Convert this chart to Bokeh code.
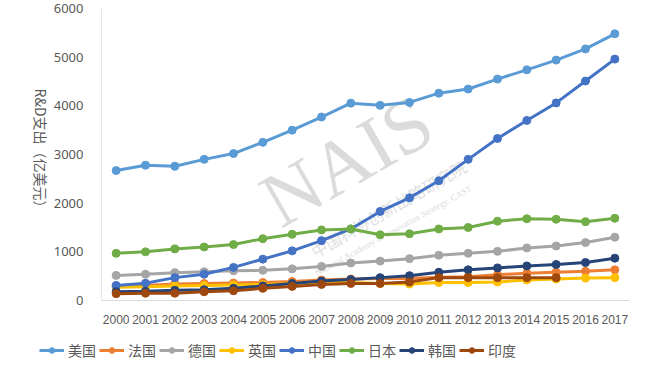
import math
from bokeh.plotting import figure
from bokeh.layouts import row, column
from bokeh.models import Legend, LegendItem, Label, ColumnDataSource
from bokeh.embed import file_html
from bokeh.resources import INLINE

years = [str(y) for y in range(2000, 2018)]
countries = ["美国", "法国", "德国", "英国", "中国", "日本", "韩国", "印度"]
colors = ["#5B9BD5", "#ED7D31", "#A5A5A5", "#FFC000", "#4472C4", "#70AD47", "#264478", "#9E480E"]

usa = [2670, 2780, 2760, 2900, 3020, 3250, 3500, 3770, 4055, 4010, 4070, 4260, 4345, 4550, 4740, 4940, 5170, 5480]
france = [300, 310, 340, 350, 360, 370, 390, 420, 440, 450, 450, 480, 490, 530, 560, 580, 600, 630]
germany = [515, 540, 570, 590, 610, 620, 650, 700, 770, 810, 860, 930, 970, 1010, 1080, 1120, 1190, 1300]
uk = [270, 280, 300, 310, 320, 330, 350, 370, 370, 350, 340, 370, 370, 380, 420, 440, 460, 470]
china = [310, 355, 470, 540, 680, 850, 1020, 1230, 1470, 1830, 2110, 2460, 2900, 3330, 3700, 4060, 4510, 4960]
japan = [970, 1000, 1060, 1100, 1150, 1270, 1360, 1450, 1470, 1350, 1370, 1470, 1500, 1630, 1680, 1670, 1620, 1690]
korea = [180, 190, 210, 220, 250, 300, 350, 400, 430, 470, 510, 580, 630, 670, 710, 740, 780, 870]
india = [140, 150, 150, 180, 200, 250, 290, 330, 350, 350, 380, 470, 470, 470, 470, 470]

series = [usa, france, germany, uk, china, japan, korea, india]

TXT = "#595959"
MAIN_H = 326
LEG_H = 34

# --- left strip with the rotated y-axis title ---
lab = figure(width=50, height=MAIN_H, x_range=(0, 1), y_range=(0, 1),
             output_backend="svg", toolbar_location=None,
             min_border=0, x_axis_type=None, y_axis_type=None)
lab.outline_line_color = None
lab.grid.visible = False
lab.add_layout(Label(x=40, y=212, x_units="screen", y_units="screen",
                     text="R&D支出（亿美元）", angle=-math.pi / 2,
                     text_align="left", text_baseline="middle",
                     text_font="Noto Sans CJK SC", text_font_size="14px", text_color=TXT))

# --- main chart ---
p = figure(width=584, height=MAIN_H, x_range=years, y_range=(0, 6000),
           output_backend="svg", toolbar_location=None,
           min_border_left=35, min_border_right=5, min_border_top=8, min_border_bottom=24)
p.outline_line_color = None
p.xgrid.grid_line_color = None
p.ygrid.grid_line_color = None

p.yaxis.ticker = [0, 1000, 2000, 3000, 4000, 5000, 6000]
p.yaxis.major_tick_line_color = None
p.yaxis.minor_tick_line_color = None
p.yaxis.axis_line_color = "#E6E6E6"
p.yaxis.major_label_text_font = "Noto Sans"
p.yaxis.major_label_text_font_size = "13px"
p.yaxis.major_label_text_color = TXT
p.yaxis.major_label_standoff = 12

p.xaxis.major_tick_line_color = None
p.xaxis.minor_tick_line_color = None
p.xaxis.major_tick_out = 0
p.xaxis.axis_line_color = "#D9D9D9"
p.xaxis.major_label_text_font = "Liberation Sans"
p.xaxis.major_label_text_font_size = "12px"
p.xaxis.major_label_text_color = TXT
p.xaxis.major_label_standoff = 14

# watermark
p.add_layout(Label(x=245, y=140, x_units="screen", y_units="screen", text="NAIS",
                   angle=math.radians(30), text_align="center", text_baseline="middle",
                   text_font="Liberation Serif", text_font_size="78px",
                   text_color="#CFCFCF", text_alpha=0.75, level="underlay"))
p.add_layout(Label(x=287, y=92, x_units="screen", y_units="screen", text="中国科协创新战略研究院",
                   angle=math.radians(30), text_align="center", text_baseline="middle",
                   text_font="Noto Sans CJK SC", text_font_size="16px",
                   text_color="#D0D0D0", text_alpha=0.7, level="underlay"))
p.add_layout(Label(x=292, y=70, x_units="screen", y_units="screen",
                   text="National Academy of Innovation Strategy, CAST",
                   angle=math.radians(29), text_align="center", text_baseline="middle",
                   text_font="Liberation Serif", text_font_size="9px",
                   text_color="#D0D0D0", text_alpha=0.8, level="underlay"))

for name, col, vals in zip(countries, colors, series):
    src = ColumnDataSource(dict(x=years[:len(vals)], y=vals))
    p.line("x", "y", source=src, line_color=col, line_width=3)
    p.scatter("x", "y", source=src, size=8, fill_color=col, line_color=col)

# --- legend strip ---
leg = figure(width=634, height=LEG_H, x_range=(0, 1), y_range=(0, 1),
             output_backend="svg", toolbar_location=None,
             min_border=0, x_axis_type=None, y_axis_type=None)
leg.outline_line_color = None
leg.grid.visible = False
items = []
for name, col in zip(countries, colors):
    esrc = ColumnDataSource(dict(x=[0.0], y=[float("nan")]))
    r1 = leg.line("x", "y", source=esrc, line_color=col, line_width=3)
    r2 = leg.scatter("x", "y", source=esrc, size=7, fill_color=col, line_color=col)
    items.append(LegendItem(label=name, renderers=[r1, r2]))
legend = Legend(items=items, orientation="horizontal", location=(39, 0),
                label_text_font="Noto Sans CJK SC", label_text_font_size="14px",
                label_text_color=TXT, glyph_width=25, glyph_height=14,
                spacing=3, label_standoff=4, padding=0, margin=0,
                border_line_color=None, background_fill_alpha=0)
leg.add_layout(legend, "center")

layout = column(row(lab, p), leg)
open("out.html", "w").write(file_html(layout, INLINE))
